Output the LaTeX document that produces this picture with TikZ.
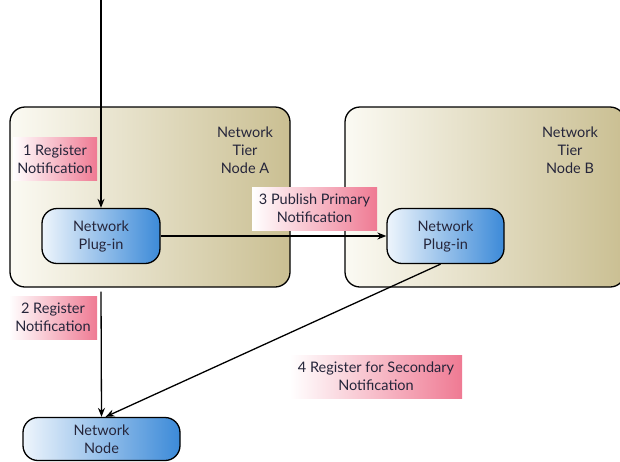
\documentclass[tikz,border=0pt]{standalone}
\usepackage{fontspec}
\setmainfont{Lato}
\usetikzlibrary{arrows.meta,calc}
\definecolor{tan}{HTML}{CABF92}
\definecolor{tanlight}{HTML}{FBFAF3}
\definecolor{blueR}{HTML}{3C8AD8}
\definecolor{blueL}{HTML}{EEF5FC}
\definecolor{pinkR}{HTML}{EF7A93}
\definecolor{txt}{HTML}{25253A}
\tikzset{
  tier/.style={draw=black, line width=1.3pt, rounded corners=15, left color=tanlight, right color=tan, minimum width=#1, minimum height=180, inner sep=0},
  plug/.style={draw=black, line width=1.3pt, rounded corners=15, left color=blueL, right color=blueR, align=center, text=txt, font=\fontsize{14.5}{18}\selectfont, inner sep=0},
  lab/.style={left color=white, right color=pinkR, align=center, text=txt, font=\fontsize{14.5}{18}\selectfont, inner sep=0, minimum height=43},
  tiertext/.style={align=center, text=txt, font=\fontsize{14.5}{18}\selectfont},
  arr/.style={draw=black, line width=1.3pt, -{Stealth[length=9pt,width=7pt]}}
}
\begin{document}
\begin{tikzpicture}[x=1pt,y=-1pt]
\useasboundingbox (0,0) rectangle (620,461);
\node[tier=280] (tierA) at (150,197) {};
\node[tier=280] (tierB) at (485,197) {};
\node[tiertext] (tA) at (245,150) {Network\\Tier\\Node A};
\node[tiertext] (tB) at (570,150) {Network\\Tier\\Node B};
\node[plug, minimum width=118, minimum height=55] (plugA) at (101,236) {Network\\Plug-in};
\node[plug, minimum width=117, minimum height=55] (plugB) at (445.5,236) {Network\\Plug-in};
\node[plug, minimum width=157, minimum height=43] (nnode) at (101.5,439) {Network\\Node};
\coordinate (top) at (101,0);
\node[lab, minimum width=84] (l1) at (55,159) {1 Register\\Notification};
\node[lab, minimum width=125] (l3) at (314.5,208.5) {3 Publish Primary\\Notification};
\node[lab, minimum width=88] (l2) at (53,317.5) {2 Register\\Notification};
\node[lab, minimum width=172] (l4) at (376,376.5) {4 Register for Secondary\\Notification};
\draw[arr] (top) -- (plugA.north);
\draw[arr] (plugA.east) -- (plugB.west);
\draw[arr] ($(plugA.south |- tierA.south)+(0,4)$) -- (nnode.north);
\draw[arr] ($(plugB.south)+(-5,0)$) -- ($(nnode.north)+(4,0)$);
\end{tikzpicture}
\end{document}
